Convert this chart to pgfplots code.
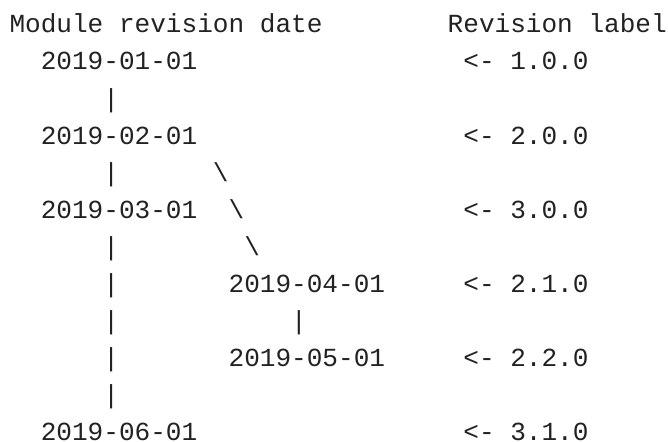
\documentclass[border=0pt]{standalone}
\usepackage{fontspec}
\setmainfont{Liberation Mono}
\setmonofont{Liberation Mono}
\usepackage{pgfplots}
\pgfplotsset{compat=1.18}
\definecolor{txt}{RGB}{34,34,34}
\newcommand\bs{\textbackslash}
\begin{document}
\begin{tikzpicture}
\begin{axis}[width=668pt,height=441pt,scale only axis,hide axis,
  xmin=0,xmax=668,ymin=0,ymax=441,y dir=reverse,clip=false]
\addplot[only marks, mark=none, nodes near coords, point meta=explicit symbolic,
  nodes near coords style={anchor=base west,inner sep=0pt,outer sep=0pt,
    font=\fontsize{26.08}{37}\selectfont\ttfamily,text=txt}]
  table[col sep=comma, x=x, y=y, meta=label] {
x,y,label
9.5,33,Module revision date
447.7,33,Revision label
40.8,70,2019-01-01
463.35,70,<- 1.0.0
103.4,107,|
40.8,144,2019-02-01
463.35,144,<- 2.0.0
103.4,181,|
212.95,181,\bs
40.8,218,2019-03-01
228.6,218,\bs
463.35,218,<- 3.0.0
103.4,255,|
244.25,255,\bs
103.4,292,|
228.6,292,2019-04-01
463.35,292,<- 2.1.0
103.4,329,|
291.2,329,|
103.4,366,|
228.6,366,2019-05-01
463.35,366,<- 2.2.0
103.4,403,|
40.8,440,2019-06-01
463.35,440,<- 3.1.0
};
\end{axis}
\pgfresetboundingbox
\useasboundingbox (current axis.south west) rectangle (current axis.north east);
\end{tikzpicture}
\end{document}
